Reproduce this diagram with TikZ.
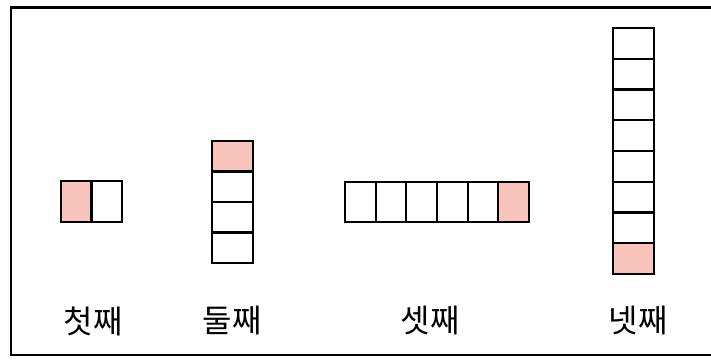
\documentclass[tikz,border=0pt]{standalone}
\usepackage{fontspec}
\newfontfamily\krfont{Noto Sans CJK KR}
\definecolor{cellpink}{RGB}{248,195,187}
\tikzset{every picture/.style={line width=1.5pt}}
\tikzset{cellbox/.style={draw=black,fill=white,line width=1.6pt},
  hotcell/.style={cellbox,fill=cellpink},
  countlabel/.style={inner sep=0.75pt,font=\krfont\fontsize{24}{28}\selectfont}}

\begin{document}
\begin{tikzpicture}[x=0.75pt,y=0.75pt,yscale=-1,xscale=1]
\useasboundingbox (0,0) rectangle (711,360);

%Frame (open at the right edge)
\draw [line width=1.9pt] (712,7.5) -- (11,7.5) -- (11,355) -- (712,355) ;

%First: two cells in a row, left one marked
\foreach \i in {0,1} {
  \ifnum\i=0 \def\sty{hotcell}\else\def\sty{cellbox}\fi
  \draw [\sty] (61+\i*30.5,181) rectangle ++(30.5,41) ;
}
%Second: four cells in a column, top one marked
\foreach \i in {0,...,3} {
  \ifnum\i=0 \def\sty{hotcell}\else\def\sty{cellbox}\fi
  \draw [\sty] (212,141+\i*30.5) rectangle ++(41,30.5) ;
}
%Third: six cells in a row, right one marked
\foreach \i in {0,...,5} {
  \ifnum\i=5 \def\sty{hotcell}\else\def\sty{cellbox}\fi
  \draw [\sty] (345+\i*30.67,182) rectangle ++(30.67,40) ;
}
%Fourth: eight cells in a column, bottom one marked
\foreach \i in {0,...,7} {
  \ifnum\i=7 \def\sty{hotcell}\else\def\sty{cellbox}\fi
  \draw [\sty] (613,28+\i*30.75) rectangle ++(41,30.75) ;
}

% Text Nodes
\node [countlabel] (first) at (93,321) {첫째};
\node [countlabel] (second) at (232,321) {둘째};
\node [countlabel] (third) at (430,321) {셋째};
\node [countlabel] (fourth) at (638,321) {넷째};

\end{tikzpicture}
\end{document}
